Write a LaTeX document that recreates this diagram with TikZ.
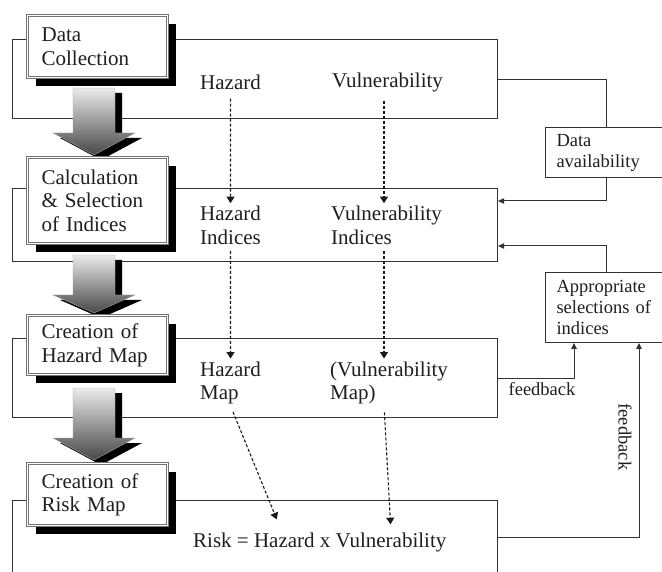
\documentclass[tikz,border=0pt]{standalone}
\usepackage{fontspec}
\setmainfont{Liberation Serif}
\usetikzlibrary{arrows.meta,shadows}
\begin{document}
\begin{tikzpicture}[x=1pt,y=-1pt,
  txt/.style={font=\fontsize{21}{23.5}\selectfont, text=black!88, inner sep=0pt, align=left},
  sidetxt/.style={font=\fontsize{18.5}{21}\selectfont, text=black!88, inner sep=0pt, align=left},
  bigbox/.style={draw=black!80, line width=1.1pt, anchor=north west, inner sep=0pt, minimum width=485pt},
  headbox/.style={draw=black!55, double=white, double distance=1.2pt, line width=1.2pt, fill=white,
     anchor=north west, minimum width=140pt, text width=112pt, inner xsep=14pt, inner ysep=2pt, align=left,
     font=\fontsize{21}{23.5}\selectfont, text=black!88,
     drop shadow={shadow xshift=8pt, shadow yshift=-8pt, fill=black, opacity=1}},
  sidebox/.style={draw=black!80, line width=1pt, fill=white, anchor=north west, minimum width=122pt,
     text width=100pt, inner xsep=11pt, inner ysep=2pt, align=left, font=\fontsize{18.5}{21}\selectfont, text=black!88},
  dconn/.style={draw=black!90, line width=1.1pt, dash pattern=on 3pt off 2pt, -{Triangle[width=8pt,length=6.5pt]}},
  sconn/.style={draw=black!80, line width=1pt},
  sarrow/.style={sconn, -{Triangle[width=5.5pt,length=6pt]}}
]
\useasboundingbox (0,0) rectangle (662,572);
\clip (0,0) rectangle (662,572);
\fill[white] (0,0) rectangle (662,572);

% big frames
\node[bigbox, minimum height=79pt] (r1) at (12,39) {};
\node[bigbox, minimum height=73pt] (r2) at (12,188) {};
\node[bigbox, minimum height=79pt] (r3) at (12,338) {};
\node[bigbox, minimum height=74pt] (r4) at (12,500) {};

% big gray arrows
\foreach \t/\h/\p in {88/133/155, 255/295/313, 388/438/460}{
  \fill[black, shift={(7,5)}] (73,\t) -- (115,\t) -- (115,\h) -- (135,\h) -- (94,\p) -- (53,\h) -- (73,\h) -- cycle;
  \shade[top color=black!8, bottom color=black!72, draw=black!35, line width=0.4pt]
     (73,\t) -- (115,\t) -- (115,\h) -- (135,\h) -- (94,\p) -- (53,\h) -- (73,\h) -- cycle;
}

% header boxes
\node[headbox, minimum height=62pt] (h1) at (27,15) {Data\\Collection};
\node[headbox, minimum height=86pt] (h2) at (27,157) {Calculation\\\& Selection\\of Indices};
\node[headbox, minimum height=59pt] (h3) at (27,315) {Creation of\\Hazard Map};
\node[headbox, minimum height=62pt] (h4) at (27,463) {Creation of\\Risk Map};

% main texts
\node[txt, anchor=west] (hz) at (200,82) {Hazard};
\node[txt, anchor=west] (vu) at (332,82) {Vulnerability};
\node[txt, anchor=west] (hzi) at (200,225.5) {Hazard\\Indices};
\node[txt, anchor=west] (vui) at (331,225.5) {Vulnerability\\Indices};
\node[txt, anchor=west] (hzm) at (200,383) {Hazard\\Map};
\node[txt, anchor=west] (vum) at (330,383) {(Vulnerability\\Map)};
\node[txt, anchor=west] (risk) at (193,542) {Risk = Hazard x Vulnerability};

% dashed arrows
\draw[dconn, shorten <=9pt, shorten >=3pt] (hz.south) -- (hzi.north);
\draw[dconn, shorten <=9pt, shorten >=3pt] (vu.south -| 384,0) -- (vui.north -| 384,0);
\draw[dconn, shorten <=6pt, shorten >=3pt] (hzi.south) -- (hzm.north);
\draw[dconn, shorten <=6pt, shorten >=3pt] (vui.south -| 384,0) -- (vum.north -| 384,0);
\draw[dconn, shorten <=8pt, shorten >=14pt] (hzm.south -| 230,0) -- (risk.north -| 282,0);
\draw[dconn, shorten <=8pt, shorten >=8pt] (vum.south -| 384,0) -- (risk.north -| 391,0);

% side boxes
\node[sidebox, minimum height=50pt] (da) at (545,127) {Data\\availability};
\node[sidebox, minimum height=70pt] (ap) at (545,272) {Appropriate\\selections of\\indices};

% side connectors
\draw[sconn] (r1.east) -| (da.north);
\draw[sarrow] (da.south) |- (r2.east |- 0,201);
\draw[sarrow] (ap.north) |- (r2.east |- 0,246);
\draw[sarrow] (r3.east) -| (ap.south -| 574,0);
\draw[sarrow] (r4.east) -| (ap.south -| 639,0);

\node[sidetxt, anchor=center] (fb1) at (542,389) {feedback};
\node[sidetxt, anchor=center, rotate=-90] (fb2) at (625,437) {feedback};
\end{tikzpicture}
\end{document}
